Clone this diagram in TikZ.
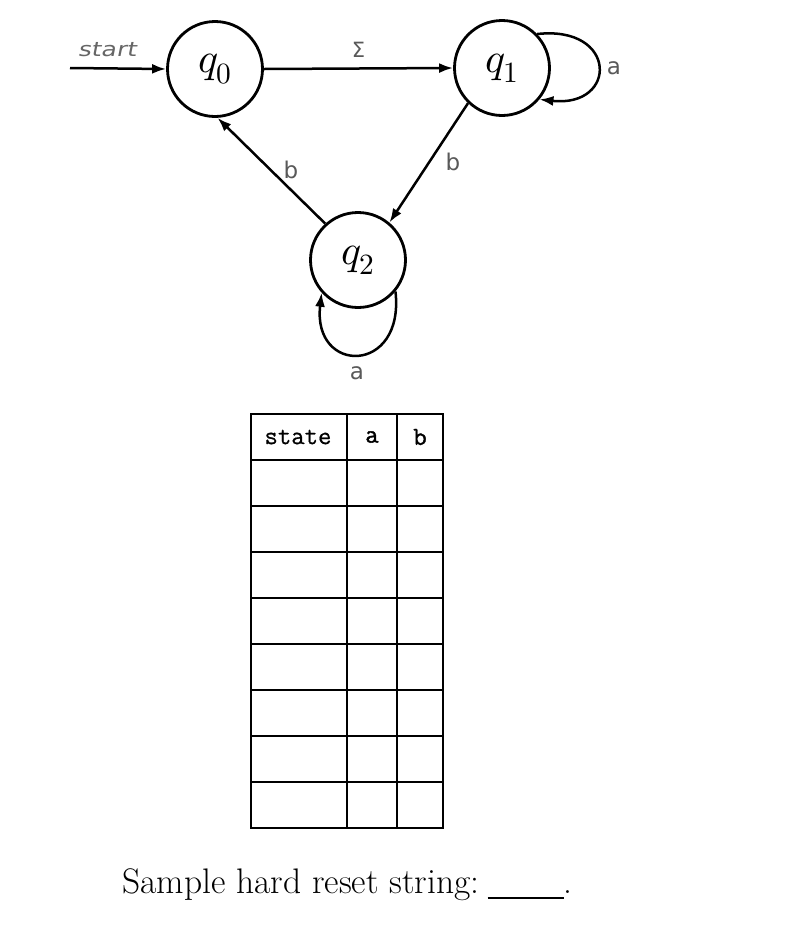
\documentclass[tikz,border=0pt]{standalone}
\usepackage{fontspec}
\usepackage{unicode-math}
\newfontfamily\lblfont{DejaVu Sans}
\newfontfamily\startfont[FakeSlant=0.2,FakeStretch=1.25]{DejaVu Sans}
\newfontfamily\ttbold[FakeBold=1.6]{Latin Modern Mono}
\newfontfamily\ttsemi[FakeBold=0.6]{Latin Modern Mono}
\usetikzlibrary{arrows.meta}
\begin{document}
\begin{tikzpicture}[x=1pt,y=-1pt,
  state/.style={circle,draw,line width=2.8pt,minimum size=95pt,inner sep=0pt,font=\fontsize{42}{42}\selectfont},
  edge/.style={line width=2.5pt,-{Latex[length=14pt,width=10pt]}},
  lbl/.style={font=\lblfont\fontsize{23}{23}\selectfont,text=black!65,inner sep=0pt},
  grid/.style={line width=2pt},
  hdr/.style={font=\ttsemi\fontsize{26}{26}\selectfont,inner sep=0pt},
  hdrb/.style={font=\ttbold\fontsize{26}{26}\selectfont,inner sep=0pt}]
\useasboundingbox (0,0) rectangle (810,930);
% states
\node[state] (q0) at (215,69) {$q_0$};
\node[state] (q1) at (502,68) {$q_1$};
\node[state] (q2) at (358,260) {$q_2$};
% start arrow
\coordinate (s) at (70,68);
\draw[edge] (s) -- (q0.180);
\node[font=\startfont\fontsize{20}{20}\selectfont,text=black!60,inner sep=0pt] (st) at (107,50) {start};
% edges
\draw[edge] (q0.0) -- node[lbl,above=10pt,font=\lblfont\fontsize{21}{21}\selectfont] (sig) {Σ} (q1.180);
\draw[edge] (q1.44) .. controls (618,25) and (618,108) .. (q1.-40);
\node[lbl] (la1) at (614,68) {a};
\draw[edge] (q1.-134) -- (q2.50);
\node[lbl] (lb1) at (453,162) {b};
\draw[edge] (q2.132) -- (q0.-87);
\node[lbl] (lb2) at (291,170) {b};
\draw[edge] (q2.-40) .. controls (405,375) and (312,375) .. (q2.-138);
\node[lbl] (la2) at (357,373) {a};
% table
\draw[grid] (251,414) rectangle (443,828);
\draw[grid] (347,414) -- (347,828);
\draw[grid] (397,414) -- (397,828);
\foreach \y in {460,506,552,598,644,690,736,782} {\draw[grid] (251,\y) -- (443,\y);}
\node[hdr] (hs) at (298,437) {state};
\node[hdrb] (ha) at (372,437) {a};
\node[hdrb] (hb) at (420,437) {b};
% bottom text
\node[anchor=base west,inner sep=0pt,font=\fontsize{35.5}{36}\selectfont] (txt) at (122,893) {Sample hard reset string:\hspace{8pt}\underline{\hspace{76pt}}.};
\end{tikzpicture}
\end{document}
